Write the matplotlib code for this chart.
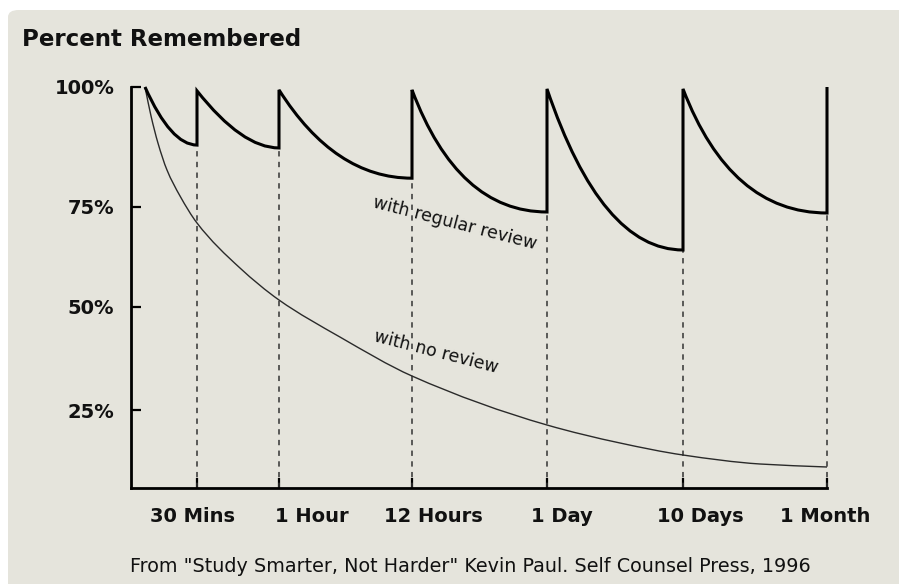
import numpy as np
import matplotlib
matplotlib.use("Agg")
import matplotlib.pyplot as plt
from matplotlib.path import Path
from matplotlib.patches import PathPatch, FancyBboxPatch
from matplotlib.transforms import IdentityTransform

# ---------------- data ----------------
review_labels = ["30 Mins", "1 Hour", "12 Hours", "1 Day", "10 Days", "1 Month"]
review_pos = [1, 2, 3, 4, 5, 6]           # review index (0 = first learning)
y_ticks = [25, 50, 75, 100]

# with regular review: value right after each review (peak) and just before the next (trough)
peak_vals = [100, 99.2, 99.4, 99.4, 99.6, 99.6]
trough_vals = [87.9, 87.3, 81.0, 73.75, 64.25, 73.5]
final_peak = 100
# where the bend of each decay sits (fraction of the interval)
knee_frac = [0.5, 0.55, 0.42, 0.34, 0.4, 0.33]

# with no review (x = review index, y = %)
noreview_x = [0.0, 0.115, 0.25, 0.423, 0.673, 1.0, 1.524, 2.0, 2.459, 3.0, 4.0, 4.537, 5.0, 5.535, 6.0]
noreview_y = [100, 94.0, 88.3, 82.7, 77.3, 71.0, 59.75, 51.75, 42.7, 33.25, 21.25, 16.75, 13.75, 11.5, 10.75]

# ---------------- scales (hand-drawn axis spacing) ----------------
x_anchor = np.array([-1, 0, 1, 2, 3, 4, 5, 6, 7], dtype=float)
x_pix = np.array([93, 145, 197, 279, 412, 547, 683, 827, 971], dtype=float)
y_anchor = np.array([-25, 0, 25, 50, 75, 100, 125], dtype=float)
y_pix = -np.array([610, 510, 410, 307, 207, 87, -33], dtype=float)
# hand placement of the x labels relative to their ticks (pixels)
label_dx = [-4, 33, 21, 15, 17, -2]

def xf(v):
    return np.interp(v, x_anchor, x_pix)
def xi(v):
    return np.interp(v, x_pix, x_anchor)
def yf(v):
    return np.interp(v, y_anchor, y_pix)
def yi(v):
    return np.interp(v, y_pix, y_anchor)

BG = "#e5e4dc"
W, H = 899, 584
fig = plt.figure(figsize=(W / 100, H / 100), dpi=100, facecolor="white")
panel = FancyBboxPatch((8 / W, -0.05), 1.1, 1 - 10 / H + 0.05,
                       boxstyle="round,pad=0,rounding_size=0.012",
                       transform=fig.transFigure, facecolor=BG, edgecolor="none", zorder=-10)
fig.patches.append(panel)

ax = fig.add_axes([131 / W, 1 - 488 / H, (827 - 131) / W, (488 - 87) / H])
ax.set_facecolor("none")
ax.set_xscale("function", functions=(xf, xi))
ax.set_yscale("function", functions=(yf, yi))
x_left = xi(np.array([131.0]))[0]
y_bottom = yi(np.array([-488.0]))[0]
ax.set_xlim(x_left, 6)
ax.set_ylim(y_bottom, 100)

FONT = "DejaVu Sans"

def to_disp(x, y):
    return ax.transData.transform(np.column_stack([x, y]))

# ---- regular review curve (quadratic Bezier decays, drawn in display space) ----
verts, codes = [], []
for i in range(6):
    p0 = to_disp([i], [peak_vals[i]])[0]
    p2 = to_disp([i + 1], [trough_vals[i]])[0]
    c = (p0[0] + knee_frac[i] * (p2[0] - p0[0]), p2[1])
    verts += [tuple(p0), c, tuple(p2)]
    codes += [Path.MOVETO if i == 0 else Path.LINETO, Path.CURVE3, Path.CURVE3]
verts.append(tuple(to_disp([6], [final_peak])[0]))
codes.append(Path.LINETO)
fig.add_artist(PathPatch(Path(verts, codes), facecolor="none", edgecolor="black",
                         lw=2.2, joinstyle="miter", capstyle="butt",
                         transform=IdentityTransform(), zorder=4))

# ---- no review curve: monotone cubic through read points (display space) ----
P = to_disp(noreview_x, noreview_y)
px, py = P[:, 0], P[:, 1]
h = np.diff(px)
d = np.diff(py) / h
m = np.zeros_like(px)
m[0], m[-1] = d[0], d[-1]
for k in range(1, len(px) - 1):
    if d[k - 1] * d[k] <= 0:
        m[k] = 0
    else:
        w1 = 2 * h[k] + h[k - 1]
        w2 = h[k] + 2 * h[k - 1]
        m[k] = (w1 + w2) / (w1 / d[k - 1] + w2 / d[k])
nv, nc = [(px[0], py[0])], [Path.MOVETO]
for k in range(len(px) - 1):
    nv += [(px[k] + h[k] / 3, py[k] + m[k] * h[k] / 3),
           (px[k + 1] - h[k] / 3, py[k + 1] - m[k + 1] * h[k] / 3),
           (px[k + 1], py[k + 1])]
    nc += [Path.CURVE4] * 3
fig.add_artist(PathPatch(Path(nv, nc), facecolor="none", edgecolor="#2a2a2a",
                         lw=1.0, transform=IdentityTransform(), zorder=3))

# dashed review markers
for xp, tv in zip(review_pos, trough_vals):
    ax.plot([xp, xp], [y_bottom, tv], color="#333333", lw=1.1,
            dashes=(3.5, 3.5), clip_on=False, zorder=2)

# axes styling
for s in ["top", "right"]:
    ax.spines[s].set_visible(False)
for s in ["left", "bottom"]:
    ax.spines[s].set_linewidth(2.0)
    ax.spines[s].set_color("black")
ax.set_xticks(review_pos)
ax.set_xticklabels([])
ax.set_yticks(y_ticks)
ax.set_yticklabels([f"{t}%" for t in y_ticks])
ax.xaxis.set_minor_locator(matplotlib.ticker.NullLocator())
ax.yaxis.set_minor_locator(matplotlib.ticker.NullLocator())
ax.tick_params(axis="both", direction="in", length=7, width=1.6, colors="black")
ax.tick_params(axis="y", pad=12)
for lab in ax.get_yticklabels():
    lab.set_fontfamily(FONT)
    lab.set_fontweight("bold")
    lab.set_fontsize(14)
    lab.set_color("#111111")

for xp, lab, dx in zip(review_pos, review_labels, label_dx):
    ax.annotate(lab, xy=(xp, 0), xycoords=ax.get_xaxis_transform(),
                xytext=(dx * 0.72, -28 * 0.72), textcoords="offset points",
                ha="center", va="center", fontsize=14, fontweight="bold",
                family=FONT, color="#111111", annotation_clip=False)

ax.text(3.32, 71.0, "with regular review", rotation=-14.5, ha="center", va="center",
        fontsize=12.5, family=FONT, color="#111111", zorder=5)
ax.text(3.18, 39.0, "with no review", rotation=-14.5, ha="center", va="center",
        fontsize=12.5, family=FONT, color="#111111", zorder=5)

fig.text(22 / W, 1 - 40 / H, "Percent Remembered", ha="left", va="center",
         fontsize=16.5, fontweight="bold", family=FONT, color="#111111")
fig.text(470 / W, 1 - 566 / H,
         'From "Study Smarter, Not Harder" Kevin Paul. Self Counsel Press, 1996',
         ha="center", va="center", fontsize=13.8, family=FONT, color="#111111")

fig.savefig("out.png", dpi=100, facecolor="white")
